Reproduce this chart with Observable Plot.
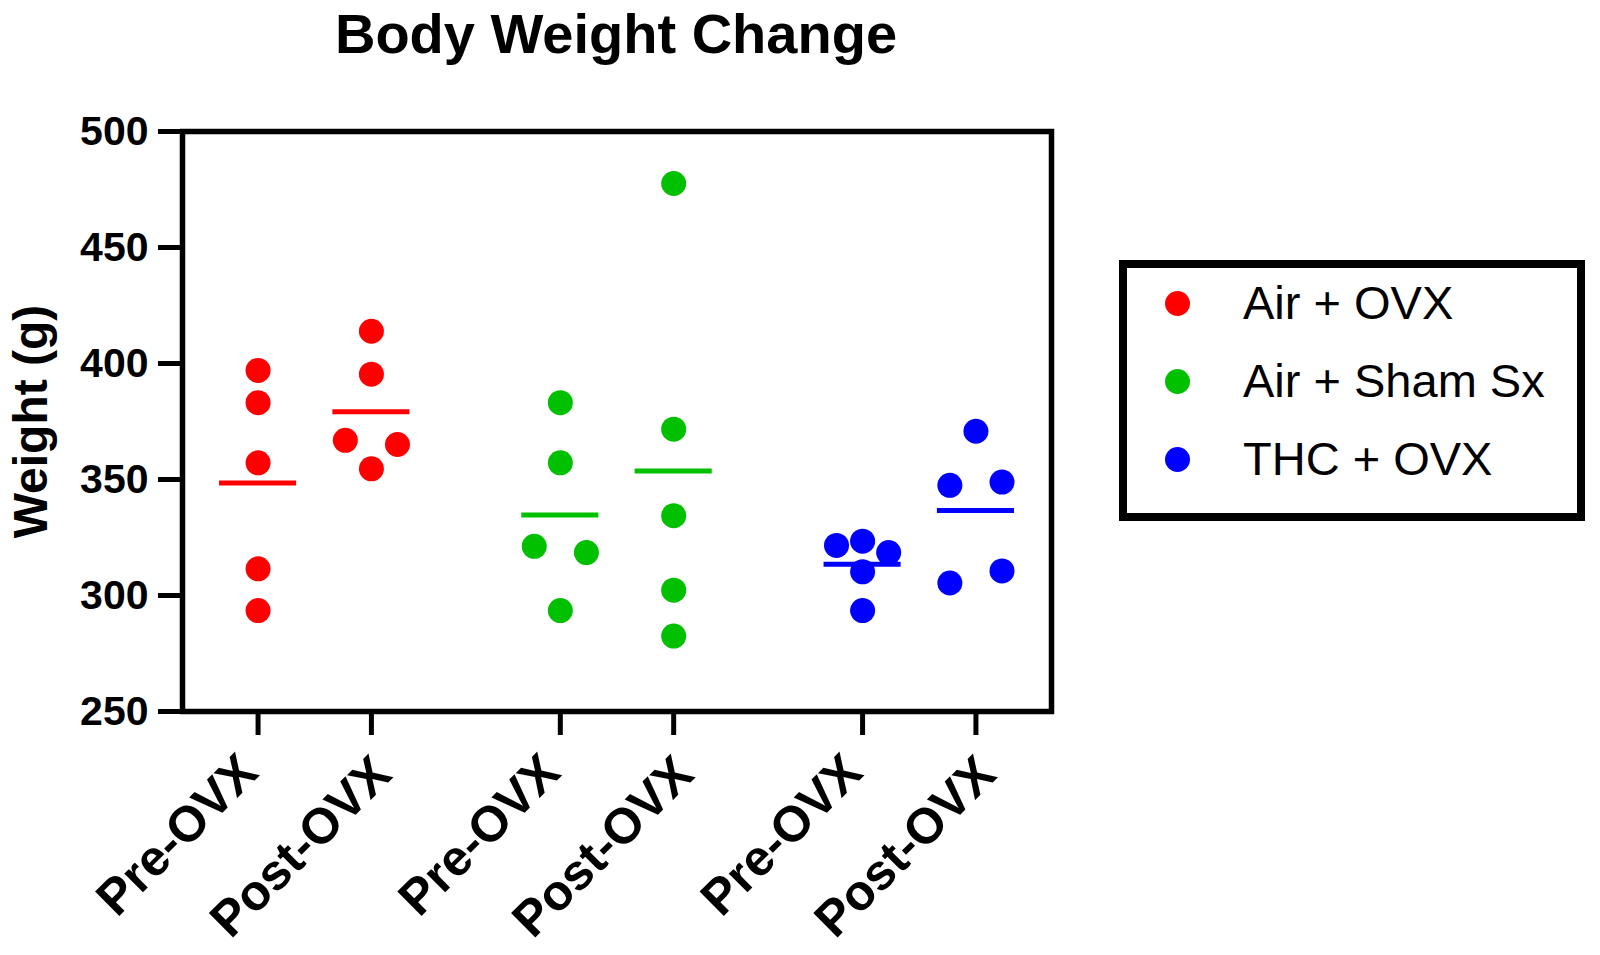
<!DOCTYPE html>
<html>
<head>
<meta charset="utf-8">
<script src="https://cdn.jsdelivr.net/npm/d3@7"></script>
<script src="https://cdn.jsdelivr.net/npm/@observablehq/plot@0.6"></script>
<style>
  body { margin: 0; background: #fff; font-family: "Liberation Sans", Arial, sans-serif; }
  #wrap { position: relative; width: 1600px; height: 955px; overflow: hidden; }
  #title { height: 77px; box-sizing: border-box; padding-top: 6px; line-height: 56px; font-size: 56px;
           font-weight: bold; width: 1232px; text-align: center; color: #000; }
  #legend { position: absolute; left: 1119px; top: 260px; width: 466px; height: 261px;
            box-sizing: border-box; border: 8px solid #000; background: #fff; }
  .sw { position: absolute; width: 25px; height: 25px; border-radius: 50%; }
  .lab { position: absolute; left: 116px; height: 50px; line-height: 50px; font-size: 47px; color: #000; white-space: nowrap; }
  #chart { position: absolute; left: 0; top: 77px; }
</style>
</head>
<body>
<div id="wrap">
  <div id="title">Body Weight Change</div>
  <div id="chart"></div>
  <div id="legend"></div>
</div>
<script>
// ---- data ----
const groups = ["Air + OVX", "Air + Sham Sx", "THC + OVX"];
const timepoints = ["Pre-OVX", "Post-OVX"];
const colors = ["#ff0000", "#00c000", "#0000ff"];
const yTicks = [250, 300, 350, 400, 450, 500];

const airOvxPre   = [397.0, 383.1, 357.2, 311.5, 293.5];
const airOvxPost  = [413.9, 395.4, 366.9, 365.1, 354.6];
const shamPre     = [383.1, 357.2, 321.2, 318.5, 293.5];
const shamPost    = [477.6, 371.7, 334.4, 302.3, 282.5];
const thcPre      = [321.6, 323.4, 318.5, 310.2, 293.5];
const thcPost     = [370.8, 347.5, 348.9, 305.4, 310.6];

const series = [
  {group: 0, time: 0, values: airOvxPre},
  {group: 0, time: 1, values: airOvxPost},
  {group: 1, time: 0, values: shamPre},
  {group: 1, time: 1, values: shamPost},
  {group: 2, time: 0, values: thcPre},
  {group: 2, time: 1, values: thcPost}
];

// ---- layout helpers (column position from group / timepoint index) ----
const groupGap = 8 / 3;
const colPos = s => s.group * groupGap + s.time;

// spread points that overlap vertically into a row (scatter-dot style)
function rowOffsets(vals, thresh = 7, step = 0.23) {
  const out = new Array(vals.length).fill(0);
  let row = [0];
  const assign = r => {
    const spacing = r.length === 2 ? 2 * step : step;
    r.forEach((idx, k) => { out[idx] = (k - (r.length - 1) / 2) * spacing; });
  };
  for (let i = 1; i < vals.length; i++) {
    if (Math.abs(vals[i] - vals[i - 1]) < thresh) row.push(i);
    else { assign(row); row = [i]; }
  }
  assign(row);
  return out;
}

const points = [];
const means = [];
series.forEach(s => {
  const p = colPos(s);
  const offs = rowOffsets(s.values);
  s.values.forEach((v, i) => points.push({group: groups[s.group], pos: p, off: offs[i], value: v}));
  means.push({group: groups[s.group], pos: p, mean: d3.mean(s.values)});
});

const xTicks = series.map(colPos);
const preTicks = series.filter(s => s.time === 0).map(colPos);
const postTicks = series.filter(s => s.time === 1).map(colPos);

const halfWidth = 0.34;
const xLabelStyle = { tickRotate: -45, tickSize: 0, tickPadding: 32, fontSize: 50, fontWeight: "bold", label: null };

const chart = Plot.plot({
  width: 1100,
  height: 878,
  marginTop: 54,
  marginBottom: 244,
  marginLeft: 182,
  marginRight: 49,
  style: { fontFamily: "'Liberation Sans', Arial, sans-serif", fontWeight: "bold", color: "#000", background: "#fff" },
  x: { domain: [-2 / 3, 7] },
  y: { domain: [250, 500] },
  color: { domain: groups, range: colors },
  marks: [
    Plot.ruleY(means, { x1: d => d.pos - halfWidth, x2: d => d.pos + halfWidth, y: "mean", stroke: "group", strokeWidth: 5 }),
    Plot.dot(points, { x: d => d.pos + d.off, y: "value", fill: "group", r: 12.5 }),
    Plot.frame({ stroke: "#000", strokeWidth: 5.5 }),
    Plot.axisY({ ticks: yTicks, tickSize: 24, tickPadding: 10, strokeWidth: 5, fontSize: 41, fontWeight: "bold", label: null }),
    Plot.axisY({ ticks: [], tickSize: 0, label: "Weight (g)", labelArrow: false, labelAnchor: "center", labelOffset: 170, fontSize: 48, fontWeight: "bold" }),
    Plot.axisX({ ticks: xTicks, tickFormat: () => "", tickSize: 24, strokeWidth: 5, label: null }),
    Plot.axisX({ ticks: preTicks, tickFormat: () => timepoints[0], dx: -9, dy: 20, ...xLabelStyle }),
    Plot.axisX({ ticks: postTicks, tickFormat: () => timepoints[1], dx: 11, dy: 22, ...xLabelStyle })
  ]
});
document.getElementById("chart").appendChild(chart);

// ---- legend ----
const legend = document.getElementById("legend");
const rowCenters = [35, 113, 191];
groups.forEach((g, i) => {
  const sw = document.createElement("div");
  sw.className = "sw";
  sw.style.background = colors[i];
  sw.style.left = (50 - 12.5) + "px";
  sw.style.top = (rowCenters[i] - 12.5) + "px";
  legend.appendChild(sw);
  const lab = document.createElement("div");
  lab.className = "lab";
  lab.style.top = (rowCenters[i] - 25) + "px";
  lab.textContent = g;
  legend.appendChild(lab);
});
</script>
</body>
</html>
